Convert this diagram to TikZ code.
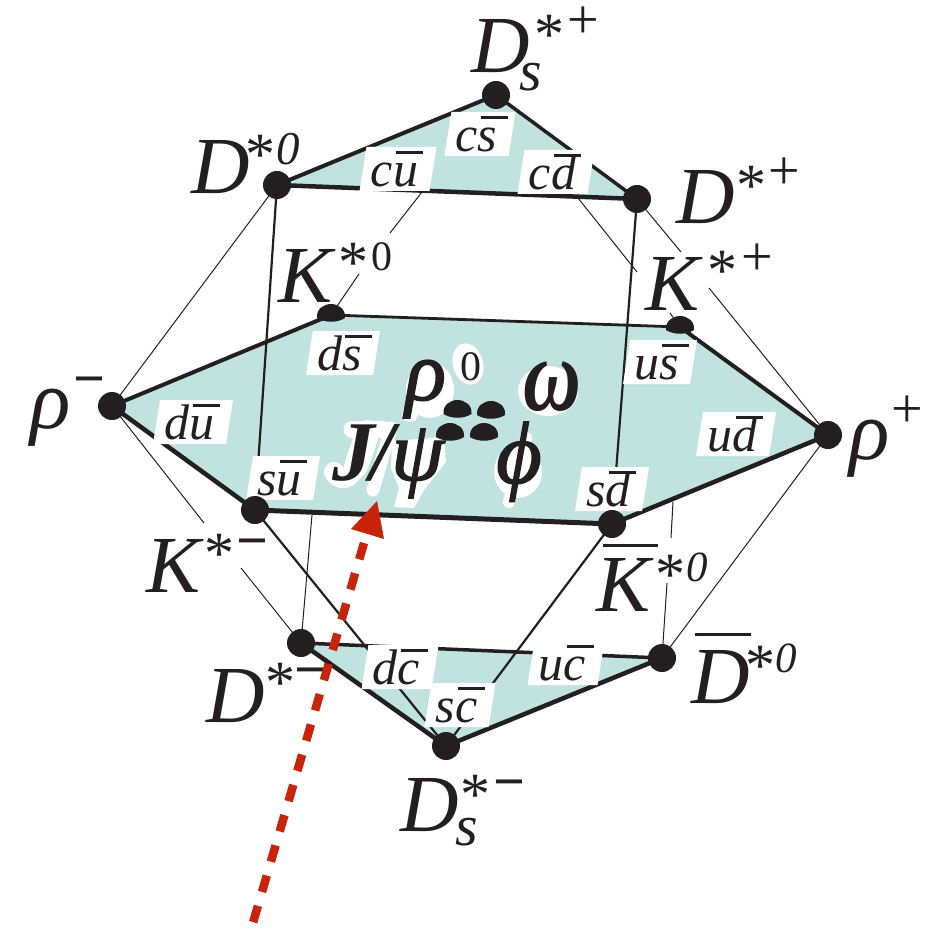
\documentclass[tikz,border=0pt]{standalone}
\usepackage{graphicx}
\usepackage{fontspec}
\setmainfont{Liberation Serif}
\newfontfamily\heavyit[ItalicFeatures={FakeBold=1.6}]{Liberation Serif}
\usetikzlibrary{shapes.geometric}
\definecolor{ink}{HTML}{231F20}
\definecolor{plane}{HTML}{C0E3DF}
\definecolor{redarrow}{HTML}{C8240A}
\newcommand\ob[1]{\rlap{\kern3pt\raisebox{33pt}{\rule{27pt}{3pt}}}#1}
\newcommand\Q[2]{#1\ob{#2}\kern7pt}
\newcommand\St[2]{\rlap{\kern#1pt\raisebox{\dimexpr#2pt-5.5pt\relax}{\fontsize{60}{60}\selectfont\upshape *}}}
\newcommand\Sg[3]{\rlap{\kern#1pt\raisebox{#2pt}{\fontsize{56}{56}\selectfont\upshape #3}}}
\newcommand\Ze[4]{\rlap{\kern#1pt\raisebox{#2pt}{\fontsize{#4}{#4}\selectfont #3{}0}}}
\newcommand\Br[3]{\rlap{\kern#1pt\raisebox{#2pt}{\rule{#3pt}{3.5pt}}}}
\newcommand\Sb[2]{\rlap{\kern#1pt\raisebox{#2pt}{\fontsize{58}{58}\selectfont s}}}
\newcommand\Mn{\bfseries −}
\tikzset{
  big/.style={inner sep=0pt,anchor=base west,text=ink,font=\fontsize{81}{81}\selectfont\itshape},
  greek/.style={inner sep=0pt,anchor=base west,text=ink,font=\fontsize{85}{85}\selectfont\bfseries\itshape},
  quark/.style={shape=trapezium,trapezium left angle=81,trapezium right angle=99,fill=white,inner xsep=2pt,inner ysep=2pt,minimum height=44pt,text=ink,font=\fontsize{50}{50}\selectfont\itshape},
  dot/.style={circle,fill=ink,inner sep=0pt,minimum size=28pt},
  thin line/.style={draw=ink,line width=1pt},
  mid line/.style={draw=ink,line width=2.2pt},
  halo/.style={draw=white,line cap=round,line join=round}
}
\begin{document}
\begin{tikzpicture}[x=1pt,y=-1pt]
\useasboundingbox (0,0) rectangle (937,933);
% vertices
\coordinate (Ds) at (496,95);
\coordinate (D0) at (277,185);
\coordinate (Dp) at (637,199);
\coordinate (K0) at (331,315);
\coordinate (Kp) at (680,327);
\coordinate (rm) at (112,406);
\coordinate (rp) at (828,435);
\coordinate (su) at (255,510);
\coordinate (sd) at (612,524);
\coordinate (Dm) at (301,643);
\coordinate (Db) at (662,658);
\coordinate (Dsm) at (446,746);
% free ends
\coordinate (a1) at (422,192); \coordinate (a2) at (390,233); \coordinate (a3) at (359,274);
\coordinate (b1) at (578,198); \coordinate (b2) at (637,272); \coordinate (b3) at (670,313);
\coordinate (c1) at (681,252); \coordinate (c2) at (709,288);
\coordinate (d1) at (204,523); \coordinate (d2) at (241,568);
\coordinate (e1) at (312,515);
\coordinate (f1) at (673,502); \coordinate (f2) at (671,538); \coordinate (f3) at (667,583);
\coordinate (tail) at (250,933); \coordinate (dashend) at (364,543);
% planes
\fill[plane] (D0) -- (Ds) -- (Dp) -- cycle;
\fill[plane] (rm) -- (K0) -- (Kp) -- (rp) -- (sd) -- (su) -- cycle;
\fill[plane] (Dm) -- (Db) -- (Dsm) -- cycle;
% thin connectors
\draw[thin line] (D0) -- (rm);
\draw[thin line] (a1) -- (a2) (a3) -- (K0);
\draw[thin line] (b1) -- (b2) (b3) -- (Kp);
\draw[thin line] (Dp) -- (c1) (c2) -- (rp);
\draw[thin line] (rm) -- (d1) (d2) -- (Dm);
\draw[thin line] (e1) -- (Dm);
\draw[thin line] (f1) -- (f2) (f3) -- (Db);
\draw[thin line] (rp) -- (Db);
% medium connectors
\draw[mid line] (D0) -- (su);
\draw[mid line] (Dp) -- (sd);
\draw[mid line] (su) -- (Dsm);
\draw[mid line] (sd) -- (Dsm);
% plane edges
\draw[ink,line width=4pt] (D0) -- (Ds);
\draw[ink,line width=3.5pt] (Ds) -- (Dp);
\draw[ink,line width=4.5pt] (D0) -- (Dp);
\draw[ink,line width=2.8pt] (K0) -- (Kp);
\draw[ink,line width=4pt] (rm) -- (K0);
\draw[ink,line width=4pt] (Kp) -- (rp);
\draw[ink,line width=4.5pt] (rm) -- (su);
\draw[ink,line width=5pt] (su) -- (sd);
\draw[ink,line width=4.5pt] (sd) -- (rp);
\draw[ink,line width=3.5pt] (Dm) -- (Db);
\draw[ink,line width=4.5pt] (Dm) -- (Dsm);
\draw[ink,line width=4.5pt] (Dsm) -- (Db);
% quark labels
\node[quark] (qcu) at (398,169) {\Q{c}{u}};
\node[quark] (qcs) at (480,134) {\Q{c}{s}};
\node[quark] (qcd) at (556,172) {\Q{c}{d}};
\node[quark] (qds) at (343,353) {\Q{d}{s}};
\node[quark] (qus) at (660,362) {\Q{u}{s}};
\node[quark] (qdu) at (193,422) {\Q{d}{u}};
\node[quark] (qud) at (736,434) {\Q{u}{d}};
\node[quark] (qsu) at (283,478) {\Q{s}{u}};
\node[quark] (qsd) at (612,489) {\Q{s}{d}};
\node[quark] (qdc) at (400,667) {\Q{d}{c}};
\node[quark] (quc) at (566,663) {\Q{u}{c}};
\node[quark] (qsc) at (460,705) {\Q{s}{c}};
% white halos of the central labels
\fill[white] (430,390) ellipse [x radius=24,y radius=28];
\draw[halo,line width=16pt] (410,414) -- (424,380);
\fill[white,rotate around={15:(468,364)}] (468,364) ellipse [x radius=15,y radius=21];
\fill[white] (548,391) ellipse [x radius=30,y radius=25];
\fill[white] (518,472) ellipse [x radius=24,y radius=26];
\draw[halo,line width=12pt] (526,438) -- (509,502);
\draw[halo,line width=17pt] (352,429) -- (383,429);
\draw[halo,line width=24pt] (368,432) -- (356,466);
\draw[halo,line width=20pt] (356,466) .. controls (350,480) and (340,482) .. (334,472);
\draw[halo,line width=13pt] (391,428) -- (373,490);
\fill[white,line join=round] (392,441) -- (444,437) -- (446,462) -- (424,490) -- (414,508) -- (394,507) -- (399,488) -- (391,468) -- cycle;
% central labels
\node[greek] (lrho) at (405,400) {\heavyit\mdseries\itshape\rlap{ρ}\rlap{\kern55pt\raisebox{20pt}{\fontsize{42}{42}\selectfont\upshape 0}}\phantom{ρ}};
\node[greek] (lom) at (523,410) {\scalebox{1}[1.3]{\fontsize{80}{80}\selectfont ω}};
\node[greek] (ljp) at (332,480) {\rlap{J}\rlap{\kern38pt /}\kern59pt{\heavyit\mdseries\itshape ψ}};
\node[greek] (lph) at (496,483) {\fontsize{88}{88}\selectfont\heavyit\mdseries\itshape ϕ};
% outer labels
\node[big] (lDsp) at (471,73) {\rlap{D}\Sb{48}{-18}\St{63}{24}\Sg{96}{34}{+}\phantom{D}};
\node[big] (lD0) at (191,194) {\rlap{D}\St{54}{25}\Ze{85}{29}{}{47}\phantom{D}};
\node[big] (lDp) at (676,224) {\rlap{D}\St{60}{24}\Sg{92}{34}{+}\phantom{D}};
\node[big] (lK0) at (278,302) {\rlap{K}\St{60}{25}\Ze{93}{32}{\upshape}{42}\phantom{K}};
\node[big] (lKp) at (645,311) {\rlap{K}\St{62}{26}\Sg{96}{35}{+}\phantom{K}};
\node[big] (lrm) at (30,428) {\fontsize{84}{84}\selectfont\rlap{ρ}\Sg{43}{31}{\Mn}\phantom{ρ}};
\node[big] (lrp) at (849,459) {\fontsize{84}{84}\selectfont\rlap{ρ}\Sg{42}{32}{+}\phantom{ρ}};
\node[big] (lKm) at (146,592) {\rlap{K}\St{58}{24}\Sg{90}{33}{\Mn}\phantom{K}};
\node[big] (lKb) at (596,611) {\rlap{K}\Br{7}{64}{55}\St{59}{22}\Ze{90}{30}{}{43}\phantom{K}};
\node[big] (lDm) at (206,722) {\rlap{D}\St{59}{25}\Sg{88}{34}{\Mn}\phantom{D}};
\node[big] (lDb) at (691,703) {\rlap{D}\Br{4}{67}{56}\St{54}{23}\Ze{84}{31}{}{43}\phantom{D}};
\node[big] (lDsm) at (400,831) {\rlap{D}\Sb{55}{-14}\St{60}{22}\Sg{93}{31}{\Mn}\phantom{D}};
% vertices
\node[dot] (nDs) at (Ds) {};
\node[dot] (nD0) at (D0) {};
\node[dot] (nDp) at (Dp) {};
\node[dot] (nrm) at (rm) {};
\node[dot] (nrp) at (rp) {};
\node[dot] (nsu) at (su) {};
\node[dot] (nsd) at (sd) {};
\node[dot] (nDm) at (Dm) {};
\node[dot] (nDb) at (Db) {};
\node[dot] (nDsm) at (Dsm) {};
\foreach \p in {K0,Kp,{457.5,411},{491,412},{450,434},{484,434}}{
  \fill[ink,shift={(\p)}] (-14,3) .. controls (-15,-6) and (-7,-11) .. (0,-11)
     .. controls (7,-11) and (15,-6) .. (14,3) .. controls (6,8) and (-6,8) .. (-14,3) -- cycle;
}
% arrow
\draw[redarrow,line width=8.5pt,dash pattern=on 17pt off 14.5pt] (dashend) -- (tail);
\fill[redarrow] (377,501) -- (351,529) -- (384,539) -- cycle;
\end{tikzpicture}
\end{document}
